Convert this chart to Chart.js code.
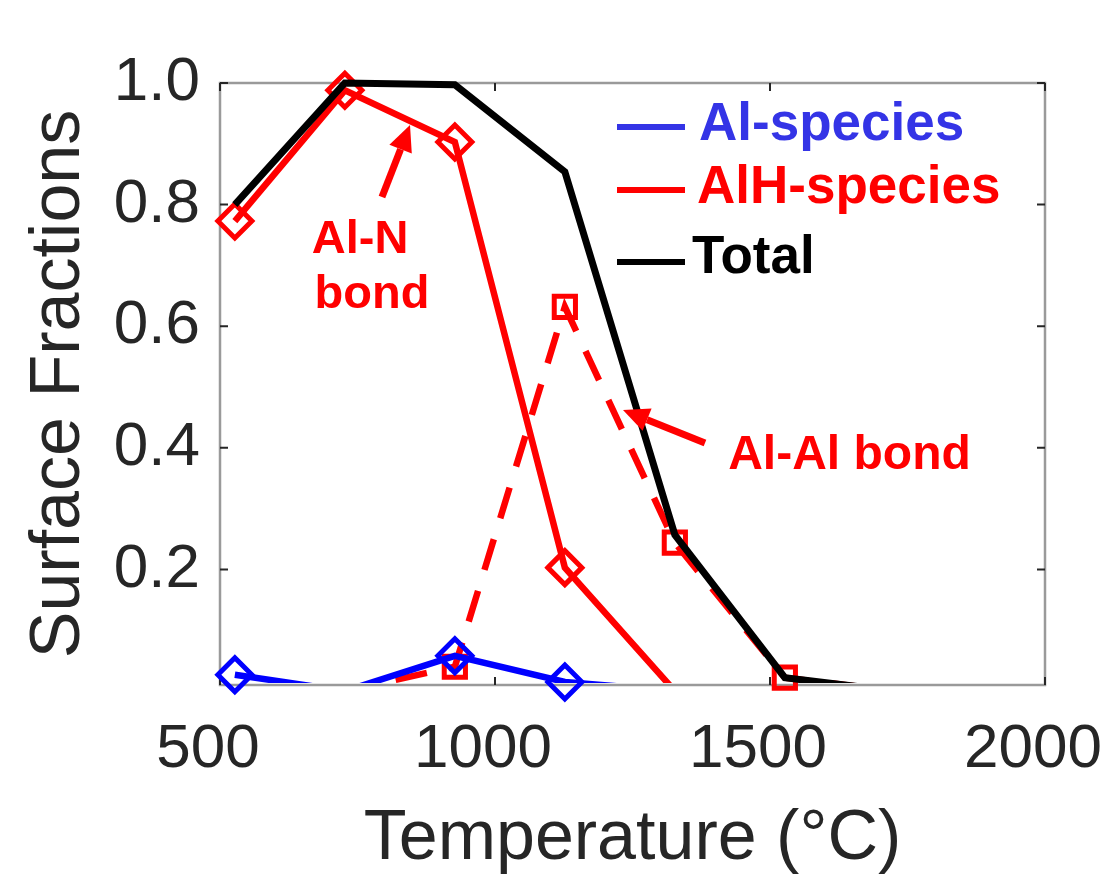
<!DOCTYPE html>
<html>
<head>
<meta charset="utf-8">
<script src="https://cdn.jsdelivr.net/npm/chart.js@4.4.1/dist/chart.umd.min.js"></script>
<style>
  html, body { margin: 0; padding: 0; background: #fff; }
</style>
</head>
<body>
<canvas id="chart" width="1118" height="879"></canvas>
<script>
// Simulated temperatures (deg C) and surface fractions
const temperatures = [527, 727, 927, 1127, 1327, 1527, 1727];
const alSpecies = [0.027, 0, 0.058, 0.015, 0, 0, 0];
const alNBond = [0.773, 0.988, 0.903, 0.203, 0, 0, 0];
const alAlBond = [0, 0, 0.04, 0.632, 0.244, 0.022, 0];
const total = [0.80, 1.0, 0.997, 0.854, 0.257, 0.022, 0];

const xTicks = [500, 1000, 1500, 2000];
const yTicks = [0.2, 0.4, 0.6, 0.8, 1.0];
const yMin = 0.01;
const yMax = 1.0;

const FONT = "'Liberation Sans', Arial, Helvetica, sans-serif";
const AXIS_TEXT = "#262626";
const BLUE = "#0000ff";
const RED = "#ff0000";
const LEGEND_BLUE = "#3434e6";

function pts(values) {
    return temperatures.map((t, i) => ({ x: t, y: values[i] }));
}

// line only, clipped to the axes box like matlab does
function lineSet(label, values, color, width, dash) {
    return {
        label: label,
        data: pts(values),
        borderColor: color,
        borderWidth: width,
        borderDash: dash || [],
        pointRadius: 0,
        fill: false,
        tension: 0,
        clip: { left: 0, top: 4, right: 0, bottom: -2 }
    };
}

// markers only, not clipped, hidden when the point is below the y limit
function markerSet(label, values, color, style, r) {
    return {
        label: label,
        data: pts(values),
        showLine: false,
        borderColor: color,
        backgroundColor: "rgba(0,0,0,0)",
        pointStyle: style,
        pointBorderWidth: 5,
        pointRadius: (ctx) => (ctx.raw && ctx.raw.y >= yMin ? r : 0),
        clip: false
    };
}

function drawArrow(ctx, x1, y1, x2, y2, color) {
    const ang = Math.atan2(y2 - y1, x2 - x1);
    const headLen = 26, headHalf = 12;
    const bx = x2 - Math.cos(ang) * headLen;
    const by = y2 - Math.sin(ang) * headLen;
    ctx.save();
    ctx.strokeStyle = color;
    ctx.fillStyle = color;
    ctx.lineWidth = 7;
    ctx.beginPath();
    ctx.moveTo(x1, y1);
    ctx.lineTo(bx, by);
    ctx.stroke();
    ctx.beginPath();
    ctx.moveTo(x2, y2);
    ctx.lineTo(bx + Math.sin(ang) * headHalf, by - Math.cos(ang) * headHalf);
    ctx.lineTo(bx - Math.sin(ang) * headHalf, by + Math.cos(ang) * headHalf);
    ctx.closePath();
    ctx.fill();
    ctx.restore();
}

// axes box with inward tick marks
const framePlugin = {
    id: "frame",
    beforeDatasetsDraw(chart) {
        const { ctx, chartArea: a, scales } = chart;
        ctx.save();
        ctx.strokeStyle = "#9a9a9a";
        ctx.lineWidth = 2.5;
        ctx.strokeRect(a.left, a.top, a.right - a.left, a.bottom - a.top);
        ctx.lineWidth = 2;
        ctx.strokeStyle = "#262626";
        ctx.beginPath();
        xTicks.forEach((v) => {
            const px = scales.x.getPixelForValue(v);
            ctx.moveTo(px, a.bottom); ctx.lineTo(px, a.bottom - 8);
            ctx.moveTo(px, a.top); ctx.lineTo(px, a.top + 8);
        });
        yTicks.forEach((v) => {
            const py = scales.y.getPixelForValue(v);
            ctx.moveTo(a.left, py); ctx.lineTo(a.left + 8, py);
            ctx.moveTo(a.right, py); ctx.lineTo(a.right - 8, py);
        });
        ctx.stroke();
        ctx.restore();
    }
};

// legend inside the axes and the two bond annotations
const notesPlugin = {
    id: "notes",
    afterDraw(chart) {
        const { ctx, chartArea: a, scales } = chart;
        const X = (v) => scales.x.getPixelForValue(v);
        const Y = (v) => scales.y.getPixelForValue(v);

        const legend = [
            ["Al-species", LEGEND_BLUE, 44, 57, 479],
            ["AlH-species", RED, 107, 120, 477],
            ["Total", "#000000", 179, 190, 472]
        ];
        ctx.save();
        ctx.font = "bold 53px " + FONT;
        ctx.textBaseline = "alphabetic";
        legend.forEach(([text, color, lineY, baseY, textX]) => {
            ctx.strokeStyle = color;
            ctx.lineWidth = 6;
            ctx.beginPath();
            ctx.moveTo(a.left + 397, a.top + lineY);
            ctx.lineTo(a.left + 465, a.top + lineY);
            ctx.stroke();
            ctx.fillStyle = color;
            ctx.fillText(text, a.left + textX, a.top + baseY);
        });

        ctx.fillStyle = RED;
        ctx.font = "bold 47px " + FONT;
        ctx.fillText("Al-N", X(667), Y(0.7205));
        ctx.fillText("bond", X(672), Y(0.63));
        ctx.font = "bold 48px " + FONT;
        ctx.fillText("Al-Al bond", X(1424), Y(0.3654));
        ctx.restore();

        drawArrow(ctx, X(794.5), Y(0.8126), X(845.5), Y(0.931), RED);
        drawArrow(ctx, X(1381.8), Y(0.408), X(1232.7), Y(0.4624), RED);
    }
};

new Chart(document.getElementById("chart").getContext("2d"), {
    type: "line",
    data: {
        datasets: [
            lineSet("Total", total, "#000000", 7),
            markerSet("Al-species", alSpecies, BLUE, "rectRot", 17),
            lineSet("Al-species", alSpecies, BLUE, 6.5),
            markerSet("Al-N bond", alNBond, RED, "rectRot", 17),
            lineSet("Al-N bond", alNBond, RED, 6.5),
            markerSet("Al-Al bond", alAlBond, RED, "rect", 15),
            lineSet("Al-Al bond", alAlBond, RED, 6.5, [32, 22])
        ]
    },
    options: {
        responsive: false,
        animation: false,
        events: [],
        layout: { padding: { top: 83, right: 73, left: 0, bottom: 0 } },
        plugins: {
            legend: { display: false },
            tooltip: { enabled: false }
        },
        scales: {
            x: {
                type: "linear",
                min: 500,
                max: 2000,
                afterBuildTicks: (s) => { s.ticks = xTicks.map((v) => ({ value: v })); },
                afterFit: (s) => { s.height = 194; s.paddingLeft = 0; s.paddingRight = 0; },
                grid: { display: false, drawTicks: false },
                border: { display: false },
                ticks: {
                    color: AXIS_TEXT,
                    font: { family: FONT, size: 62 },
                    padding: 28,
                    labelOffset: -12,
                    maxRotation: 0,
                    autoSkip: false,
                    callback: (v) => String(v)
                },
                title: {
                    display: true,
                    text: "Temperature (°C)",
                    color: AXIS_TEXT,
                    font: { family: FONT, size: 70, lineHeight: 1 },
                    padding: { top: 0, bottom: 4 }
                }
            },
            y: {
                min: yMin,
                max: yMax,
                afterBuildTicks: (s) => { s.ticks = yTicks.map((v) => ({ value: v })); },
                afterFit: (s) => { s.width = 220; s.paddingTop = 0; s.paddingBottom = 0; },
                grid: { display: false, drawTicks: false },
                border: { display: false },
                ticks: {
                    color: AXIS_TEXT,
                    font: { family: FONT, size: 62 },
                    padding: 20,
                    callback: (v) => v.toFixed(1)
                },
                title: {
                    display: true,
                    text: "Surface Fractions",
                    color: AXIS_TEXT,
                    font: { family: FONT, size: 70, lineHeight: 1 },
                    padding: { top: 25, bottom: 0 }
                }
            }
        }
    },
    plugins: [framePlugin, notesPlugin]
});
</script>
</body>
</html>
